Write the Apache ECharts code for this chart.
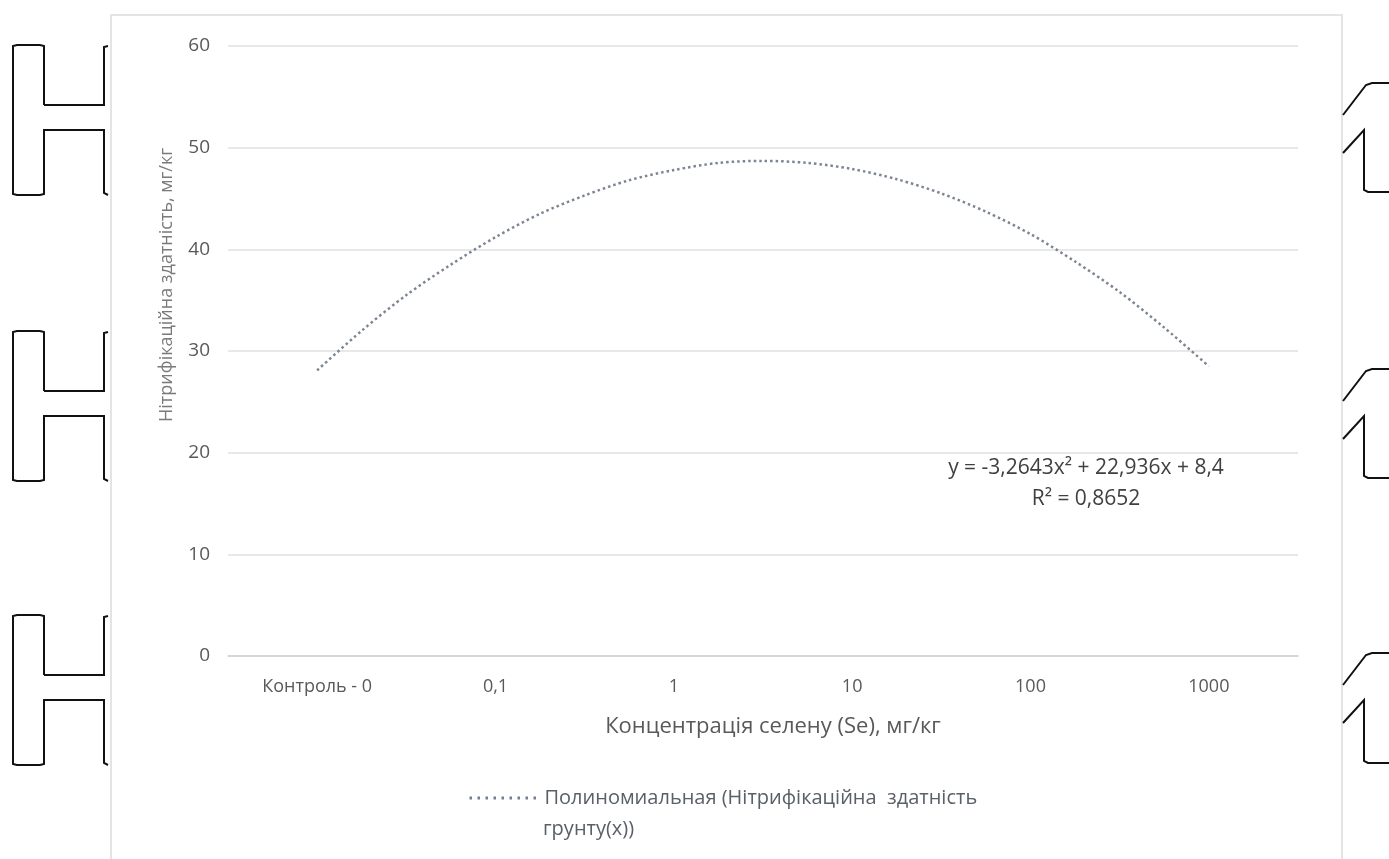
<!DOCTYPE html>
<html style="height: 100%; margin: 0; padding: 0;">
<head>
    <meta charset="utf-8">
    <title>Нітрифікаційна здатність грунту</title>
    <script src="https://cdn.jsdelivr.net/npm/echarts@6.0.0/dist/echarts.min.js"></script>
    <style>
        body, html {
            height: 100%;
            margin: 0;
            padding: 0;
            overflow: hidden;
            background-color: #ffffff;
        }
        #main {
            height: 859px;
            width: 1389px;
        }
    </style>
</head>
<body>
<div id="main"></div>
<script type="text/javascript">
    // категорії осі X
    var categories = ['Контроль - 0', '0,1', '1', '10', '100', '1000'];
    // поліноміальна лінія тренду (x - номер категорії)
    var trendX = [1, 1.25, 1.5, 1.75, 2, 2.25, 2.5, 2.75, 3, 3.25, 3.5,
                  3.75, 4, 4.25, 4.5, 4.75, 5, 5.25, 5.5, 5.75, 6];
    var trendY = [28.1, 32.0, 35.5, 38.5, 41.2, 43.5, 45.3, 46.8, 47.8, 48.5, 48.7,
                  48.5, 47.9, 46.9, 45.5, 43.7, 41.5, 38.8, 35.8, 32.3, 28.5];
    var yTicks = {min: 0, max: 60, step: 10};
    var seriesName = 'Полиномиальная (Нітрифікаційна  здатність\nгрунту(x))';
    var equationText = 'y = -3,2643x² + 22,936x + 8,4\nR² = 0,8652';

    var myChart = echarts.init(document.getElementById('main'));

    var FONT = '"Open Sans", "Noto Sans", sans-serif';

    function ink() {
        return {stroke: '#111', lineWidth: 2, fill: null};
    }

    // скобки по краях сторінки (артефакт скану)
    function leftBracket(h) {
        return [
            {
                type: 'polyline', silent: true, z: 100,
                shape: {points: [[44, h + 59], [44, h], [40, h - 1], [17, h - 1], [13, h], [13, h + 148],
                    [17, h + 149], [40, h + 149], [44, h + 148], [44, h + 84], [104, h + 84], [104, h + 147], [108, h + 149]]},
                style: ink()
            },
            {
                type: 'polyline', silent: true, z: 100,
                shape: {points: [[44, h + 59], [104, h + 59], [104, h + 1], [108, h]]},
                style: ink()
            }
        ];
    }
    function rightBracket(top, bottom) {
        return [
            {
                type: 'polyline', silent: true, z: 100,
                shape: {points: [[1343, top + 32], [1366, top + 2], [1372, top], [1389, top]]},
                style: ink()
            },
            {
                type: 'polyline', silent: true, z: 100,
                shape: {points: [[1343, top + 70], [1364, top + 47], [1364, bottom - 2], [1368, bottom], [1389, bottom]]},
                style: ink()
            }
        ];
    }

    var trendData = trendX.map(function (x, i) { return [x, trendY[i]]; });
    var legendLines = seriesName.split('\n');

    var graphics = [
        {
            type: 'rect',
            silent: true,
            z: -10,
            shape: {x: 111, y: 15, width: 1231, height: 900},
            style: {fill: '#ffffff', stroke: '#dcdcdc', lineWidth: 1.5}
        },
        {
            type: 'text',
            silent: true,
            x: 167,
            y: 285,
            rotation: Math.PI / 2,
            style: {
                text: 'Нітрифікаційна здатність, мг/кг',
                fill: '#7a7a7a',
                font: '18px ' + FONT,
                align: 'center',
                verticalAlign: 'middle'
            }
        },
        {
            type: 'text',
            silent: true,
            x: 1086,
            y: 484,
            style: {
                text: equationText,
                fill: '#404040',
                font: '21px ' + FONT,
                lineHeight: 31,
                align: 'center',
                verticalAlign: 'middle'
            }
        },
        {
            // другий рядок підпису легенди
            type: 'text',
            silent: true,
            x: 543,
            y: 829,
            style: {
                text: legendLines[1],
                fill: '#5a6068',
                font: '20px ' + FONT,
                align: 'left',
                verticalAlign: 'middle'
            }
        }
    ];
    [46, 332, 616].forEach(function (h) { graphics = graphics.concat(leftBracket(h)); });
    [[83, 192], [369, 478], [653, 763]].forEach(function (p) { graphics = graphics.concat(rightBracket(p[0], p[1])); });

    var option = {
        backgroundColor: '#ffffff',
        animation: false,
        textStyle: {fontFamily: FONT},
        grid: {
            left: 228,
            right: 91,
            top: 46,
            bottom: 203
        },
        legend: {
            left: 468,
            top: 788,
            padding: 0,
            itemWidth: 70,
            itemHeight: 14,
            data: [seriesName],
            itemStyle: {opacity: 0},
            lineStyle: {width: 3, type: [2.5, 5.5], color: '#6f7f96'},
            formatter: function (name) { return name.split('\n')[0]; },
            textStyle: {
                color: '#5a6068',
                fontSize: 20,
                fontFamily: FONT
            }
        },
        xAxis: [
            {
                type: 'category',
                data: categories,
                boundaryGap: true,
                axisTick: {show: false},
                axisLine: {lineStyle: {color: '#d0d0d0', width: 1.5}},
                axisLabel: {color: '#595959', fontSize: 18, margin: 22, fontFamily: FONT},
                name: 'Концентрація селену (Se), мг/кг',
                nameLocation: 'middle',
                nameGap: 60,
                nameTextStyle: {color: '#595959', fontSize: 22, padding: [0, 0, 0, 20], fontFamily: FONT}
            },
            {
                type: 'value',
                min: 0.5,
                max: 6.5,
                show: false
            }
        ],
        yAxis: {
            type: 'value',
            min: yTicks.min,
            max: yTicks.max,
            interval: yTicks.step,
            axisLine: {show: false},
            axisTick: {show: false},
            axisLabel: {color: '#595959', fontSize: 19, margin: 18, fontFamily: FONT},
            splitLine: {lineStyle: {color: '#e0e0e0', width: 1.5}}
        },
        series: [
            {
                name: seriesName,
                type: 'line',
                xAxisIndex: 1,
                data: trendData,
                smooth: 0.3,
                symbol: 'none',
                lineStyle: {
                    color: '#7c8593',
                    width: 2.5,
                    type: [2.5, 3]
                },
                z: 3
            }
        ],
        graphic: graphics
    };

    myChart.setOption(option);
</script>
</body>
</html>
